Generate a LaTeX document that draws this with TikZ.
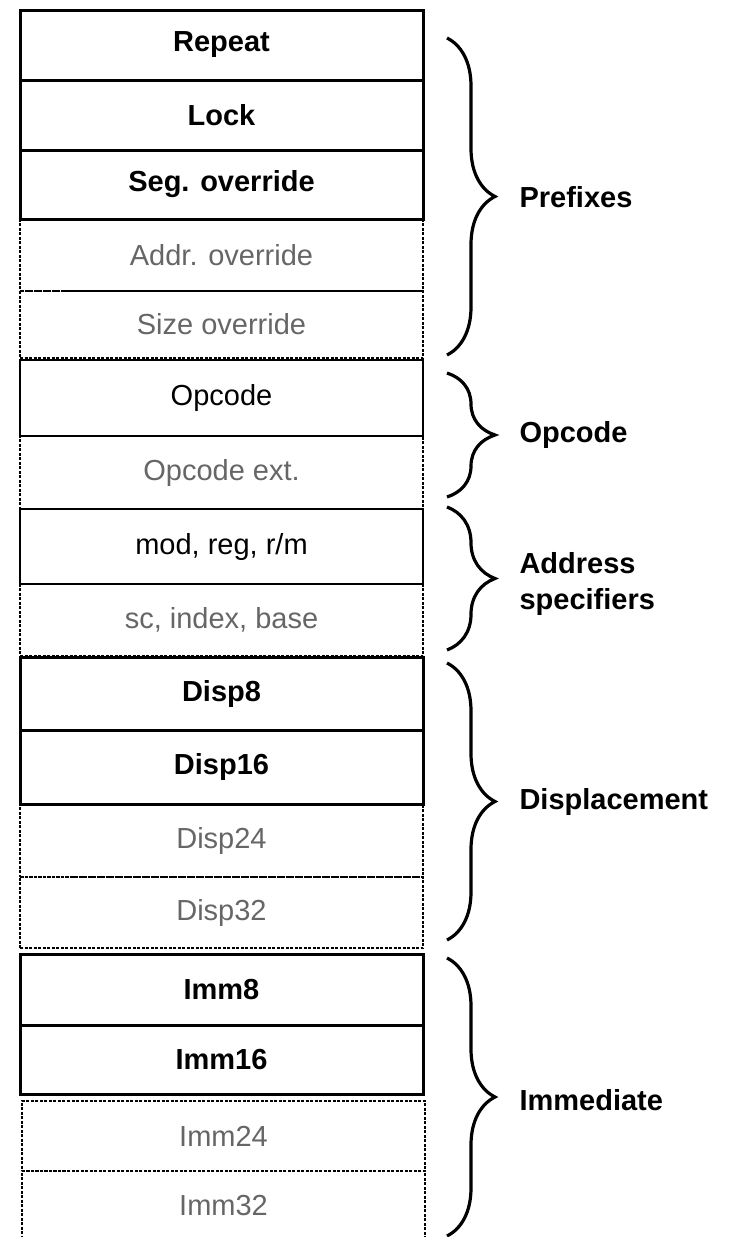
\documentclass[tikz,border=0pt]{standalone}
\usepackage{fontspec}
\setmainfont{Liberation Sans}
\usetikzlibrary{decorations.pathreplacing}

\tikzset{
  field/.style={draw, rectangle, minimum width=403pt, inner sep=0pt, font=\fontsize{29}{34}\selectfont},
  fixedfield/.style={field, line width=3pt, font=\fontsize{29}{34}\selectfont\bfseries},
  plainfield/.style={field, line width=2.4pt},
  optfield/.style={field, line width=1.8pt, dash pattern=on 3pt off 1.5pt, text=black!60},
  grp/.style={decorate, decoration={brace, amplitude=48pt}, line width=3.2pt},
  grplabel/.style={anchor=west, align=left, font=\fontsize{29}{34}\selectfont\bfseries},
}

\begin{document}
\begin{tikzpicture}[x=1pt, y=-1pt]
    \useasboundingbox (0,0) rectangle (732,1237);

        % Optional fields (dashed), drawn first
        \node[optfield, minimum height=72pt] (addr) at (221.5,255) {Addr. override};
        \node[optfield, minimum height=67pt] (size) at (221.5,324.5) {Size override};
        \node[optfield, minimum height=73pt] (opx) at (221.5,472.5) {Opcode ext.};
        \node[optfield, minimum height=72pt] (sib) at (221.5,620) {sc, index, base};
        \node[optfield, minimum height=73pt] (d24) at (221.5,840.5) {Disp24};
        \node[optfield, minimum height=71pt] (d32) at (221.5,912.5) {Disp32};
        \node[optfield, minimum height=70pt] (i24) at (223.5,1136) {Imm24};
        \node[optfield, minimum height=70pt] (i32) at (223.5,1206) {Imm32};

        % Plain fields
        \node[plainfield, minimum height=76pt] (opc) at (221.5,398) {Opcode};
        \node[plainfield, minimum height=75pt] (modrm) at (221.5,546.5) {mod, reg, r/m};

        % Fixed fields (heavy border)
        \node[fixedfield, minimum height=70pt] (rep) at (221.5,45) {Repeat};
        \node[fixedfield, minimum height=70pt] (lock) at (221.5,115) {Lock};
        \node[fixedfield, minimum height=69pt] (seg) at (221.5,184.5) {Seg. override};
        \node[fixedfield, minimum height=73pt] (d8) at (221.5,693.5) {Disp8};
        \node[fixedfield, minimum height=74pt] (d16) at (221.5,767) {Disp16};
        \node[fixedfield, minimum height=71pt] (i8) at (221.5,989.5) {Imm8};
        \node[fixedfield, minimum height=69pt] (i16) at (221.5,1059.5) {Imm16};

        % Brace ends
        \coordinate (preT) at (447,38);   \coordinate (preB) at (447,355);
        \coordinate (opcT) at (447,373);  \coordinate (opcB) at (447,497);
        \coordinate (adrT) at (447,507);  \coordinate (adrB) at (447,650);
        \coordinate (dspT) at (447,663);  \coordinate (dspB) at (447,940);
        \coordinate (immT) at (447,958);  \coordinate (immB) at (447,1236);

        % Group labels
        \node[grplabel] (lpre) at (516,197) {Prefixes};
        \node[grplabel] (lopc) at (516,435) {Opcode};
        \node[grplabel] (ladr) at (516,584) {Address\\[2pt]specifiers};
        \node[grplabel] (ldsp) at (516,802) {Displacement};
        \node[grplabel] (limm) at (516,1100) {Immediate};

        % Braces
        \draw[grp] (preT) -- (preB);
        \draw[grp] (opcT) -- (opcB);
        \draw[grp] (adrT) -- (adrB);
        \draw[grp] (dspT) -- (dspB);
        \draw[grp] (immT) -- (immB);

    \end{tikzpicture}
\end{document}
